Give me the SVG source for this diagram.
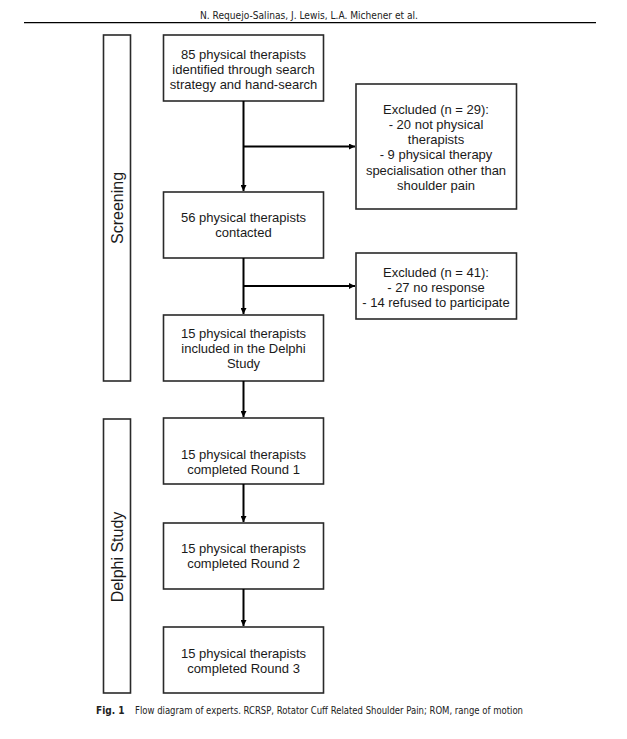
<svg xmlns="http://www.w3.org/2000/svg" width="627" height="739" viewBox="0 0 627 739">
<defs>
<style>
.box{fill:#fff;stroke:#2a2a2a;stroke-width:1.6}
.t{font-family:"Liberation Sans",Arial,sans-serif;font-size:13px;fill:#1a1a1a;text-anchor:middle}
.side{font-family:"Liberation Sans",Arial,sans-serif;font-size:16px;fill:#1a1a1a;text-anchor:middle}
.conn{fill:none;stroke:#000;stroke-width:2}
.hdr{font-family:"DejaVu Sans Condensed","DejaVu Sans",sans-serif;font-size:10px;fill:#222}
</style>
<marker id="arr" viewBox="0 0 10 10" refX="10" refY="5" markerWidth="3.2" markerHeight="3" orient="auto" markerUnits="strokeWidth">
<path d="M0,0 L10,5 L0,10 z" fill="#000"/>
</marker>
</defs>
<rect width="627" height="739" fill="#fff"/>
<g id="header">
<text class="hdr" x="309" y="19" text-anchor="middle" textLength="218" lengthAdjust="spacingAndGlyphs">N. Requejo-Salinas, J. Lewis, L.A. Michener et al.</text>
<line x1="24" y1="22.7" x2="596" y2="22.7" stroke="#000" stroke-width="1.3"/>
</g>
<g id="screening">
<rect class="box" x="103.5" y="35" width="27" height="346"/>
<text class="side" transform="translate(123,208) rotate(-90)">Screening</text>
</g>
<g id="delphi">
<rect class="box" x="103.5" y="419" width="27" height="274"/>
<text class="side" transform="translate(123,557) rotate(-90)">Delphi Study</text>
</g>
<g id="n1">
<rect class="box" x="163.5" y="35" width="160" height="66"/>
<text class="t" x="243.5" y="58.5">85 physical therapists</text>
<text class="t" x="243.5" y="73.8">identified through search</text>
<text class="t" x="243.5" y="89">strategy and hand-search</text>
</g>
<g id="ex1">
<rect class="box" x="356" y="84" width="160.5" height="125"/>
<text class="t" x="436" y="113.5">Excluded (n = 29):</text>
<text class="t" x="436" y="128.8">- 20 not physical</text>
<text class="t" x="436" y="144.1">therapists</text>
<text class="t" x="436" y="159.4">- 9 physical therapy</text>
<text class="t" x="436" y="174.7">specialisation other than</text>
<text class="t" x="436" y="190">shoulder pain</text>
</g>
<g id="n2">
<rect class="box" x="163.5" y="192" width="160" height="66"/>
<text class="t" x="243.5" y="222">56 physical therapists</text>
<text class="t" x="243.5" y="237.3">contacted</text>
</g>
<g id="ex2">
<rect class="box" x="356" y="253" width="160.5" height="66"/>
<text class="t" x="436" y="276.5">Excluded (n = 41):</text>
<text class="t" x="436" y="291.8">- 27 no response</text>
<text class="t" x="436" y="307">- 14 refused to participate</text>
</g>
<g id="n3">
<rect class="box" x="163.5" y="315" width="160" height="66"/>
<text class="t" x="243.5" y="337.5">15 physical therapists</text>
<text class="t" x="243.5" y="352.8">included in the Delphi</text>
<text class="t" x="243.5" y="368">Study</text>
</g>
<g id="r1">
<rect class="box" x="163.5" y="418" width="160" height="66"/>
<text class="t" x="243.5" y="458.5">15 physical therapists</text>
<text class="t" x="243.5" y="473.8">completed Round 1</text>
</g>
<g id="r2">
<rect class="box" x="163.5" y="523" width="160" height="66"/>
<text class="t" x="243.5" y="552.5">15 physical therapists</text>
<text class="t" x="243.5" y="567.8">completed Round 2</text>
</g>
<g id="r3">
<rect class="box" x="163.5" y="627" width="160" height="66"/>
<text class="t" x="243.5" y="657.5">15 physical therapists</text>
<text class="t" x="243.5" y="672.8">completed Round 3</text>
</g>
<g id="connectors">
<line class="conn" x1="243.5" y1="101" x2="243.5" y2="191" marker-end="url(#arr)"/>
<line class="conn" x1="243.5" y1="146.5" x2="355" y2="146.5" marker-end="url(#arr)"/>
<line class="conn" x1="243.5" y1="258" x2="243.5" y2="314" marker-end="url(#arr)"/>
<line class="conn" x1="243.5" y1="286" x2="355" y2="286" marker-end="url(#arr)"/>
<line class="conn" x1="243.5" y1="381" x2="243.5" y2="417" marker-end="url(#arr)"/>
<line class="conn" x1="243.5" y1="484" x2="243.5" y2="522" marker-end="url(#arr)"/>
<line class="conn" x1="243.5" y1="589" x2="243.5" y2="626" marker-end="url(#arr)"/>
</g>
<g id="caption">
<text class="hdr" x="96" y="713.5" font-weight="bold" font-size="9.5">Fig. 1</text>
<text class="hdr" x="135" y="713.5" font-size="9.5" textLength="388" lengthAdjust="spacingAndGlyphs">Flow diagram of experts.  RCRSP, Rotator Cuff Related Shoulder Pain; ROM, range of motion</text>
</g>
</svg>
